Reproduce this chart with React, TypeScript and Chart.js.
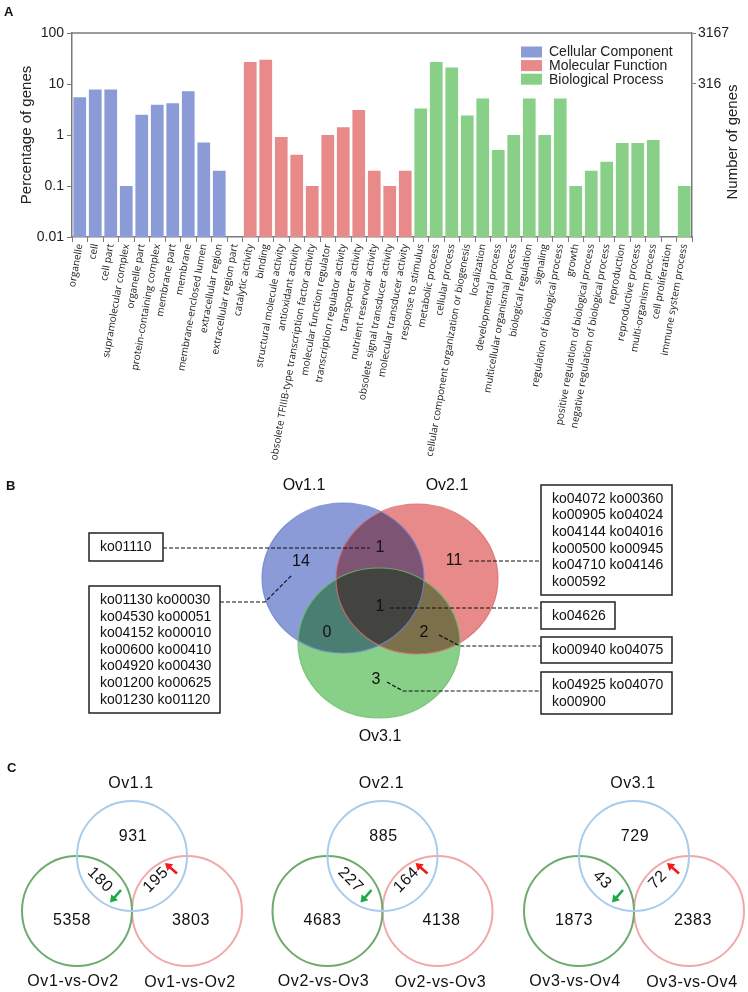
import React, { useEffect, useRef } from 'react';
import { Chart, registerables } from 'chart.js';

Chart.register(...registerables);

const FONT = "'Liberation Sans', Arial, sans-serif";
const LABEL_FONT = "'Open Sans', 'Liberation Sans', sans-serif";

// ---------- Panel A data ----------
const seriesNames = ['Cellular Component', 'Molecular Function', 'Biological Process'];
const ccLabels = ['organelle', 'cell', 'cell part', 'supramolecular complex', 'organelle part', 'protein-containing complex', 'membrane part', 'membrane', 'membrane-enclosed lumen', 'extracellular region', 'extracellular region part'];
const ccPercent = [5.5, 7.8, 7.8, 0.1, 2.5, 3.9, 4.2, 7.2, 0.71, 0.2, null];
const mfLabels = ['catalytic activity', 'binding', 'structural molecule activity', 'antioxidant activity', 'obsolete TFIIIB-type transcription factor activity', 'molecular function regulator', 'transcription regulator activity', 'transporter activity', 'nutrient reservoir activity', 'obsolete signal transducer activity', 'molecular transducer activity'];
const mfPercent = [27, 30, 0.91, 0.41, 0.1, 1.0, 1.42, 3.1, 0.2, 0.1, 0.2];
const bpLabels = ['response to stimulus', 'metabolic process', 'cellular process', 'cellular component organization or biogenesis', 'localization', 'developmental process', 'multicellular organismal process', 'biological regulation', 'signaling', 'regulation of biological process', 'growth', 'positive regulation of biological process', 'negative regulation of biological process', 'reproduction', 'reproductive process', 'multi-organism process', 'cell proliferation', 'immune system process'];
const bpPercent = [3.3, 27, 21, 2.4, 5.2, 0.51, 1.0, 5.2, 1.0, 5.2, 0.1, 0.2, 0.3, 0.7, 0.7, 0.8, null, 0.1];
const yTickValues = [0.01, 0.1, 1, 10, 100];
const yTickLabels = ['0.01', '0.1', '1', '10', '100'];
const totalGenes = 3167;
const rightTickValues = [316.7, 3167];
const rightTickLabels = ['316', '3167'];

// ---------- Panel B data ----------
const vennBSets = ['Ov1.1', 'Ov2.1', 'Ov3.1'];
// only1, only2, only3, 1&2, 1&3, 2&3, all
const vennBCounts = [14, 11, 3, 1, 0, 2, 1];
const koOv1Only = ['ko01130 ko00030', 'ko04530 ko00051', 'ko04152 ko00010', 'ko00600 ko00410', 'ko04920 ko00430', 'ko01200 ko00625', 'ko01230 ko01120'];
const koOv12 = ['ko01110'];
const koOv2Only = ['ko04072 ko00360', 'ko00905 ko04024', 'ko04144 ko04016', 'ko00500 ko00945', 'ko04710 ko04146', 'ko00592'];
const koAll = ['ko04626'];
const koOv23 = ['ko00940 ko04075'];
const koOv3Only = ['ko04925 ko04070', 'ko00900'];

// ---------- Panel C data ----------
const vennCTitles = ['Ov1.1', 'Ov2.1', 'Ov3.1'];
const vennCCompare = ['Ov1-vs-Ov2', 'Ov2-vs-Ov3', 'Ov3-vs-Ov4'];
const vennCTopOnly = [931, 885, 729];
const vennCLeftOnly = [5358, 4683, 1873];
const vennCRightOnly = [3803, 4138, 2383];
const vennCLeftOverlap = [180, 227, 43];
const vennCRightOverlap = [195, 164, 72];

// ---------- styles ----------
const ccColor = '#8A9BD8';
const mfColor = '#E88A8A';
const bpColor = '#88CF88';
const axisColor = '#7a7a7a';

function BarChartA() {
  const ref = useRef<HTMLCanvasElement>(null);
  useEffect(() => {
    const labels = [...ccLabels, ...mfLabels, ...bpLabels];
    const pad = (vals: (number | null)[], offset: number) =>
      labels.map((_, i) => (i >= offset && i < offset + vals.length ? vals[i - offset] : null));
    const colors = [ccColor, mfColor, bpColor];
    const framePlugin = {
      id: 'frameA',
      afterDraw(chart: any) {
        const { ctx, chartArea: ca } = chart;
        ctx.save();
        ctx.strokeStyle = axisColor;
        ctx.lineWidth = 1.5;
        ctx.beginPath();
        ctx.moveTo(ca.left, ca.top);
        ctx.lineTo(ca.right, ca.top);
        ctx.stroke();
        // legend
        ctx.font = `14px ${FONT}`;
        ctx.textBaseline = 'middle';
        ctx.textAlign = 'left';
        seriesNames.forEach((name, i) => {
          const y = 52 + i * 13.6;
          ctx.fillStyle = colors[i];
          ctx.fillRect(521, y - 5.5, 21, 11);
          ctx.fillStyle = '#222';
          ctx.fillText(name, 549, y + 0.5);
        });
        // axis titles
        ctx.font = `15px ${FONT}`;
        ctx.fillStyle = '#222';
        ctx.textAlign = 'center';
        ctx.save();
        ctx.translate(27, (ca.top + ca.bottom) / 2);
        ctx.rotate(-Math.PI / 2);
        ctx.fillText('Percentage of genes', 0, 0);
        ctx.restore();
        ctx.save();
        ctx.translate(733, 142);
        ctx.rotate(-Math.PI / 2);
        ctx.fillText('Number of genes', 0, 0);
        ctx.restore();
        // panel label
        ctx.font = `bold 13px ${FONT}`;
        ctx.textAlign = 'left';
        ctx.textBaseline = 'top';
        ctx.fillStyle = '#111';
        ctx.fillText('A', 4, 6);
        ctx.restore();
      },
    };
    const chart = new Chart(ref.current!, {
      type: 'bar',
      data: {
        labels,
        datasets: [
          { label: seriesNames[0], data: pad(ccPercent, 0), backgroundColor: ccColor },
          { label: seriesNames[1], data: pad(mfPercent, ccLabels.length), backgroundColor: mfColor },
          { label: seriesNames[2], data: pad(bpPercent, ccLabels.length + mfLabels.length), backgroundColor: bpColor },
        ].map((d) => ({ ...d, grouped: false, barPercentage: 0.82, categoryPercentage: 1, borderWidth: 0, yAxisID: 'y' })) as any,
      },
      options: {
        animation: false,
        responsive: false,
        events: [],
        layout: { padding: { top: 33, left: 0, right: 0, bottom: 0 } },
        plugins: { legend: { display: false }, tooltip: { enabled: false } },
        scales: {
          x: {
            offset: true,
            grid: { display: true, offset: true, drawOnChartArea: false, drawTicks: true, tickLength: 5, color: axisColor },
            border: { display: true, color: axisColor, width: 1.5 },
            ticks: { autoSkip: false, minRotation: 80, maxRotation: 80, padding: 1, color: '#1a1a1a', font: { family: LABEL_FONT, size: 10 } },
            afterFit: (s: any) => { s.height = 233; },
          },
          y: {
            type: 'logarithmic',
            position: 'left',
            min: 0.01,
            max: 100,
            afterBuildTicks: (s: any) => { s.ticks = yTickValues.map((v) => ({ value: v })); },
            ticks: { autoSkip: false, padding: 3, color: '#222', font: { family: FONT, size: 14 }, callback: (_v: any, i: number) => yTickLabels[i] },
            grid: { display: true, drawOnChartArea: false, drawTicks: true, tickLength: 5, color: axisColor },
            border: { display: true, color: axisColor, width: 1.5 },
            afterFit: (s: any) => { s.width = 72; },
          },
          y2: {
            type: 'logarithmic',
            position: 'right',
            min: totalGenes * 0.0001,
            max: totalGenes,
            afterBuildTicks: (s: any) => { s.ticks = rightTickValues.map((v) => ({ value: v })); },
            ticks: { autoSkip: false, padding: 2, color: '#222', font: { family: FONT, size: 14 }, callback: (_v: any, i: number) => rightTickLabels[i] },
            grid: { display: true, drawOnChartArea: false, drawTicks: true, tickLength: 4, color: axisColor },
            border: { display: true, color: axisColor, width: 1.5 },
            afterFit: (s: any) => { s.width = 56; },
          },
        },
      } as any,
      plugins: [framePlugin],
    });
    return () => chart.destroy();
  }, []);
  return <canvas ref={ref} width={748} height={470} style={{ position: 'absolute', left: 0, top: 0, width: 748, height: 470 }} />;
}

// layout constants for B/C (page pixel coordinates)
const BC_TOP = 470;
const BC_BOTTOM = 992;
const ellipses = [
  { cx: 343, cy: 578, fill: ccColor, stroke: '#6F82CF' },
  { cx: 417, cy: 579, fill: mfColor, stroke: '#D66E6E' },
  { cx: 379, cy: 643, fill: bpColor, stroke: '#6CBF6C' },
];
const ELL_RX = 81;
const ELL_RY = 75;
const cBlueX = [132, 382.5, 634];
const C_TOP_Y = 856;
const C_BOT_Y = 911;
const C_DX = 55;
const C_R = 55;

function VennChart() {
  const ref = useRef<HTMLCanvasElement>(null);
  useEffect(() => {
    const vennPlugin = {
      id: 'venn',
      beforeDatasetsDraw(chart: any) {
        const { ctx } = chart;
        const X = (v: number) => chart.scales.x.getPixelForValue(v);
        const Y = (v: number) => chart.scales.y.getPixelForValue(v);
        const rx = X(ELL_RX) - X(0);
        const ry = Y(BC_TOP + ELL_RY) - Y(BC_TOP);
        ctx.save();
        ellipses.forEach((e) => {
          ctx.globalCompositeOperation = 'multiply';
          ctx.beginPath();
          ctx.ellipse(X(e.cx), Y(e.cy), rx, ry, 0, 0, Math.PI * 2);
          ctx.fillStyle = e.fill;
          ctx.fill();
        });
        ctx.globalCompositeOperation = 'source-over';
        ellipses.forEach((e) => {
          ctx.beginPath();
          ctx.ellipse(X(e.cx), Y(e.cy), rx, ry, 0, 0, Math.PI * 2);
          ctx.strokeStyle = e.stroke;
          ctx.globalAlpha = 0.8;
          ctx.lineWidth = 1.2;
          ctx.stroke();
        });
        ctx.restore();
      },
      afterDatasetsDraw(chart: any) {
        const { ctx } = chart;
        const X = (v: number) => chart.scales.x.getPixelForValue(v);
        const Y = (v: number) => chart.scales.y.getPixelForValue(v);
        ctx.save();
        ctx.textAlign = 'center';
        ctx.textBaseline = 'middle';
        ctx.fillStyle = '#111';
        // panel labels
        ctx.font = `bold 13px ${FONT}`;
        ctx.textAlign = 'left';
        ctx.fillText('B', X(6), Y(486));
        ctx.fillText('C', X(7), Y(768));
        ctx.textAlign = 'center';
        // B titles
        ctx.font = `16px ${FONT}`;
        ctx.fillText(vennBSets[0], X(304), Y(486));
        ctx.fillText(vennBSets[1], X(447), Y(486));
        ctx.fillText(vennBSets[2], X(380), Y(737));
        // B counts
        const countPos = [[301, 562], [454, 561], [376, 680], [380, 548], [327, 633], [424, 633], [380, 607]];
        vennBCounts.forEach((c, i) => ctx.fillText(String(c), X(countPos[i][0]), Y(countPos[i][1])));
        // leaders
        ctx.strokeStyle = '#111';
        ctx.lineWidth = 1.2;
        ctx.setLineDash([4, 2]);
        const leaders = [
          [[163, 548], [370, 548]],
          [[220, 602], [265, 602], [292, 575]],
          [[469, 561], [541, 561]],
          [[390, 608], [541, 608]],
          [[439, 635], [460, 646], [541, 646]],
          [[387, 682], [403, 691], [541, 691]],
        ];
        leaders.forEach((pts) => {
          ctx.beginPath();
          pts.forEach((p, i) => (i === 0 ? ctx.moveTo(X(p[0]), Y(p[1])) : ctx.lineTo(X(p[0]), Y(p[1]))));
          ctx.stroke();
        });
        ctx.setLineDash([]);
        // boxes
        const boxes = [
          { x0: 89, y0: 533, x1: 163, y1: 561, lines: koOv12 },
          { x0: 89, y0: 586, x1: 220, y1: 713, lines: koOv1Only },
          { x0: 541, y0: 485, x1: 672, y1: 595, lines: koOv2Only },
          { x0: 541, y0: 602, x1: 615, y1: 629, lines: koAll },
          { x0: 541, y0: 637, x1: 672, y1: 663, lines: koOv23 },
          { x0: 541, y0: 672, x1: 672, y1: 714, lines: koOv3Only },
        ];
        ctx.font = `14px ${FONT}`;
        ctx.textAlign = 'left';
        boxes.forEach((b) => {
          ctx.lineWidth = 1.5;
          ctx.strokeStyle = '#222';
          ctx.fillStyle = '#fff';
          ctx.fillRect(X(b.x0), Y(b.y0), X(b.x1) - X(b.x0), Y(b.y1) - Y(b.y0));
          ctx.strokeRect(X(b.x0), Y(b.y0), X(b.x1) - X(b.x0), Y(b.y1) - Y(b.y0));
          ctx.fillStyle = '#111';
          const lh = 16.6;
          const startY = (b.y0 + b.y1) / 2 - ((b.lines.length - 1) * lh) / 2;
          b.lines.forEach((t, i) => ctx.fillText(t, X(b.x0 + 11), Y(startY + i * lh + 0.5)));
        });
        // C texts
        ctx.textAlign = 'center';
        ctx.fillStyle = '#111';
        try { (ctx as any).letterSpacing = '0.6px'; } catch (e) {}
        cBlueX.forEach((cx, k) => {
          ctx.font = `16px ${FONT}`;
          ctx.fillText(vennCTitles[k], X(cx - 1), Y(784));
          ctx.fillText(vennCCompare[k], X(cx - 59), Y(982));
          ctx.fillText(vennCCompare[k], X(cx + 58), Y(983));
          ctx.fillText(String(vennCTopOnly[k]), X(cx + 1), Y(837));
          ctx.fillText(String(vennCLeftOnly[k]), X(cx - 60), Y(921));
          ctx.fillText(String(vennCRightOnly[k]), X(cx + 59), Y(921));
          ctx.save();
          ctx.translate(X(cx - 32), Y(880));
          ctx.rotate(Math.PI / 4);
          ctx.fillText(String(vennCLeftOverlap[k]), 0, 0);
          ctx.restore();
          ctx.save();
          ctx.translate(X(cx + 24), Y(880));
          ctx.rotate(-Math.PI / 4);
          ctx.fillText(String(vennCRightOverlap[k]), 0, 0);
          ctx.restore();
          // arrows
          const arrow = (x0: number, y0: number, x1: number, y1: number, color: string) => {
            const ax0 = X(x0), ay0 = Y(y0), ax1 = X(x1), ay1 = Y(y1);
            const ang = Math.atan2(ay1 - ay0, ax1 - ax0);
            const hl = 7, hw = 4.5;
            ctx.strokeStyle = color;
            ctx.fillStyle = color;
            ctx.lineWidth = 2.6;
            ctx.beginPath();
            ctx.moveTo(ax0, ay0);
            ctx.lineTo(ax1 - Math.cos(ang) * hl * 0.8, ay1 - Math.sin(ang) * hl * 0.8);
            ctx.stroke();
            ctx.beginPath();
            ctx.moveTo(ax1, ay1);
            ctx.lineTo(ax1 - Math.cos(ang) * hl - Math.sin(ang) * hw, ay1 - Math.sin(ang) * hl + Math.cos(ang) * hw);
            ctx.lineTo(ax1 - Math.cos(ang) * hl + Math.sin(ang) * hw, ay1 - Math.sin(ang) * hl - Math.cos(ang) * hw);
            ctx.closePath();
            ctx.fill();
            ctx.fillStyle = '#111';
          };
          arrow(cx - 11, 890, cx - 22, 902.5, '#1AAA4A');
          arrow(cx + 45, 873.5, cx + 33, 863, '#EE1C1C');
        });
        ctx.restore();
      },
    };
    const ring = (dx: number, dy: number) => cBlueX.map((cx) => ({ x: cx + dx, y: dy, r: C_R }));
    const chart = new Chart(ref.current!, {
      type: 'bubble',
      data: {
        datasets: [
          { label: 'top', data: ring(0, C_TOP_Y), borderColor: '#A9CCEB' },
          { label: 'left', data: ring(-C_DX, C_BOT_Y), borderColor: '#6DAA6D' },
          { label: 'right', data: ring(C_DX, C_BOT_Y), borderColor: '#F2A8A8' },
        ].map((d) => ({ ...d, backgroundColor: 'rgba(0,0,0,0)', borderWidth: 2, clip: false })) as any,
      },
      options: {
        animation: false,
        responsive: false,
        events: [],
        layout: { padding: 0, autoPadding: false },
        plugins: { legend: { display: false }, tooltip: { enabled: false } },
        scales: {
          x: { type: 'linear', min: 0, max: 748, display: false },
          y: { type: 'linear', min: BC_TOP, max: BC_BOTTOM, reverse: true, display: false },
        },
      } as any,
      plugins: [vennPlugin],
    });
    return () => chart.destroy();
  }, []);
  return <canvas ref={ref} width={748} height={BC_BOTTOM - BC_TOP} style={{ position: 'absolute', left: 0, top: BC_TOP, width: 748, height: BC_BOTTOM - BC_TOP }} />;
}

export default function App() {
  return (
    <div style={{ position: 'absolute', left: 0, top: 0, width: 748, height: 992, background: '#fff' }}>
      <BarChartA />
      <VennChart />
    </div>
  );
}
